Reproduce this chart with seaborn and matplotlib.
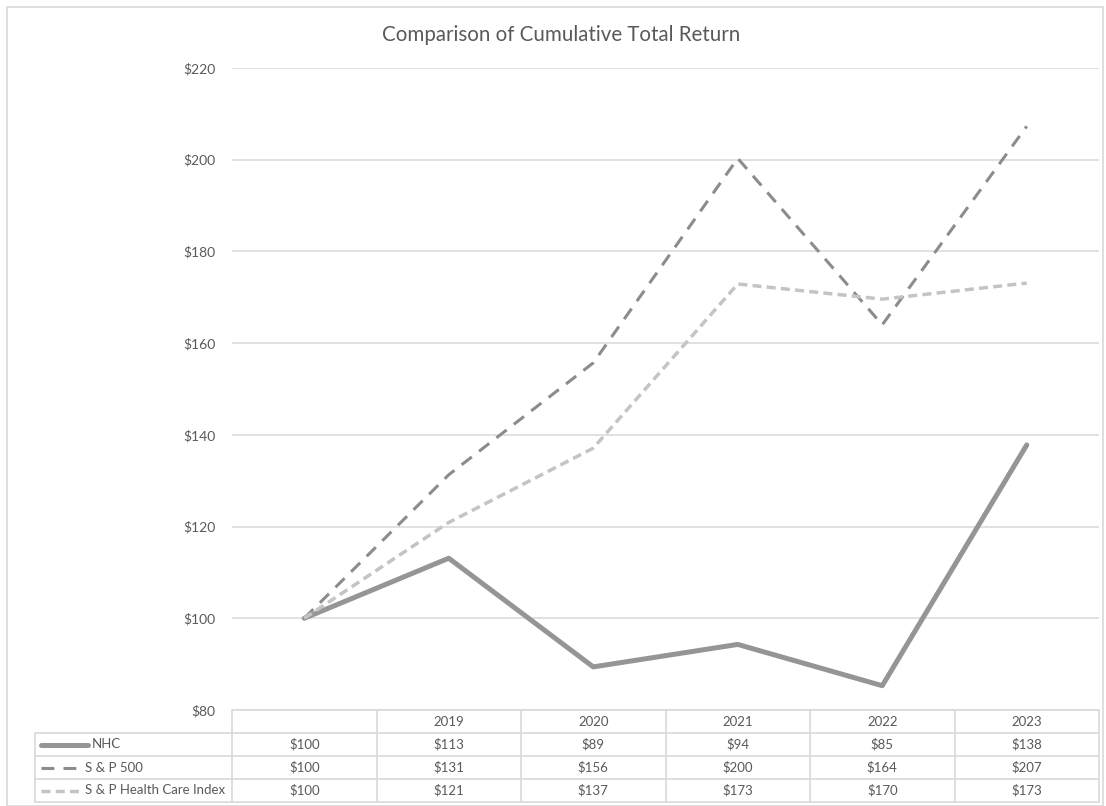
import matplotlib
matplotlib.use("Agg")
import matplotlib.pyplot as plt
import numpy as np
import pandas as pd
import seaborn as sns
from matplotlib.patches import Rectangle

# values (table rounds them to whole dollars)
years = ["", "2019", "2020", "2021", "2022", "2023"]
nhc = [100, 113.1, 89.4, 94.3, 85.3, 137.8]
sp500 = [100, 131.3, 155.7, 200.3, 164.0, 207.3]
sp_health = [100, 120.9, 137.1, 172.9, 169.6, 173.1]
series_names = ["NHC", "S & P 500", "S & P Health Care Index"]

sns.set_theme(style="white")
plt.rcParams["font.family"] = ["Lato", "DejaVu Sans"]
TEXT = "#595959"
GRID = "#d9d9d9"

styles = {
    "NHC": dict(color="#959595", linewidth=3.6, linestyle="-",
                solid_capstyle="round", solid_joinstyle="round"),
    "S & P 500": dict(color="#8c8c8c", linewidth=2.2, linestyle=(0, (4.2, 3.0)),
                      dash_capstyle="butt"),
    "S & P Health Care Index": dict(color="#c4c4c4", linewidth=2.5,
                                    linestyle=(0, (2.6, 1.5)), dash_capstyle="butt"),
}

df = pd.DataFrame({
    "pos": list(range(len(years))) * 3,
    "value": nhc + sp500 + sp_health,
    "series": np.repeat(series_names, len(years)),
})

W, H = 1106, 806
fig = plt.figure(figsize=(W / 100, H / 100), dpi=100)
fig.patches.append(Rectangle((7 / W, 0), (W - 10) / W, (H - 7) / H,
                             transform=fig.transFigure, fill=False,
                             edgecolor=GRID, linewidth=1.2))

left, right, top, bottom = 232, 1099, 68, 710
ax = fig.add_axes([left / W, 1 - bottom / H, (right - left) / W, (bottom - top) / H])

for name in series_names:
    sub = df[df["series"] == name]
    sns.lineplot(data=sub, x="pos", y="value", ax=ax, legend=False, **styles[name])

ax.set_xlim(-0.5, len(years) - 0.5)
ax.set_ylim(80, 220)
ax.set_yticks(range(80, 221, 20))
ax.set_yticklabels([f"${v}" for v in range(80, 221, 20)], color=TEXT, fontsize=10)
ax.tick_params(axis="y", length=0, pad=12)
ax.set_xticks([])
ax.set_xlabel("")
ax.set_ylabel("")
for s in ax.spines.values():
    s.set_visible(False)
ax.grid(axis="y", color=GRID, linewidth=1.1)
ax.set_axisbelow(True)

fig.text(561 / W, 1 - 35 / H, "Comparison of Cumulative Total Return",
         ha="center", va="center", fontsize=14.8, color=TEXT)

# data table under the plot
cat_w = (right - left) / len(years)
lab_left = 35
x0 = -0.5 - (left - lab_left) / cat_w
tbl_bottom = 802
tax = fig.add_axes([lab_left / W, 1 - tbl_bottom / H, (right - lab_left) / W,
                    (tbl_bottom - bottom) / H])
tax.set_xlim(x0, len(years) - 0.5)
tax.set_ylim(4, 0)
tax.axis("off")

lw_tbl = 1.2
# horizontal lines
tax.plot([-0.5, len(years) - 0.5], [0, 0], color=GRID, lw=lw_tbl, clip_on=False)
for r in [1, 2, 3, 4]:
    tax.plot([x0, len(years) - 0.5], [r, r], color=GRID, lw=lw_tbl, clip_on=False)
# vertical lines
tax.plot([x0, x0], [1, 4], color=GRID, lw=lw_tbl, clip_on=False)
for c in range(len(years) + 1):
    tax.plot([c - 0.5, c - 0.5], [0, 4], color=GRID, lw=lw_tbl, clip_on=False)

for i, y in enumerate(years):
    tax.text(i, 0.5, y, ha="center", va="center", fontsize=9.5, color=TEXT)

sample_len = {"NHC": 47, "S & P 500": 40, "S & P Health Care Index": 40}
for r, (name, vals) in enumerate(zip(series_names, [nhc, sp500, sp_health]), start=1):
    sx0 = x0 + 6 / cat_w
    sx1 = sx0 + sample_len[name] / cat_w
    tax.plot([sx0, sx1], [r + 0.5, r + 0.5], clip_on=False, **styles[name])
    tax.text(sx1 + 4 / cat_w, r + 0.5, name, ha="left", va="center",
             fontsize=9.5, color=TEXT)
    for i, v in enumerate(vals):
        tax.text(i, r + 0.5, f"${round(v)}", ha="center", va="center",
                 fontsize=9.5, color=TEXT)

fig.savefig("out.png", dpi=100)
